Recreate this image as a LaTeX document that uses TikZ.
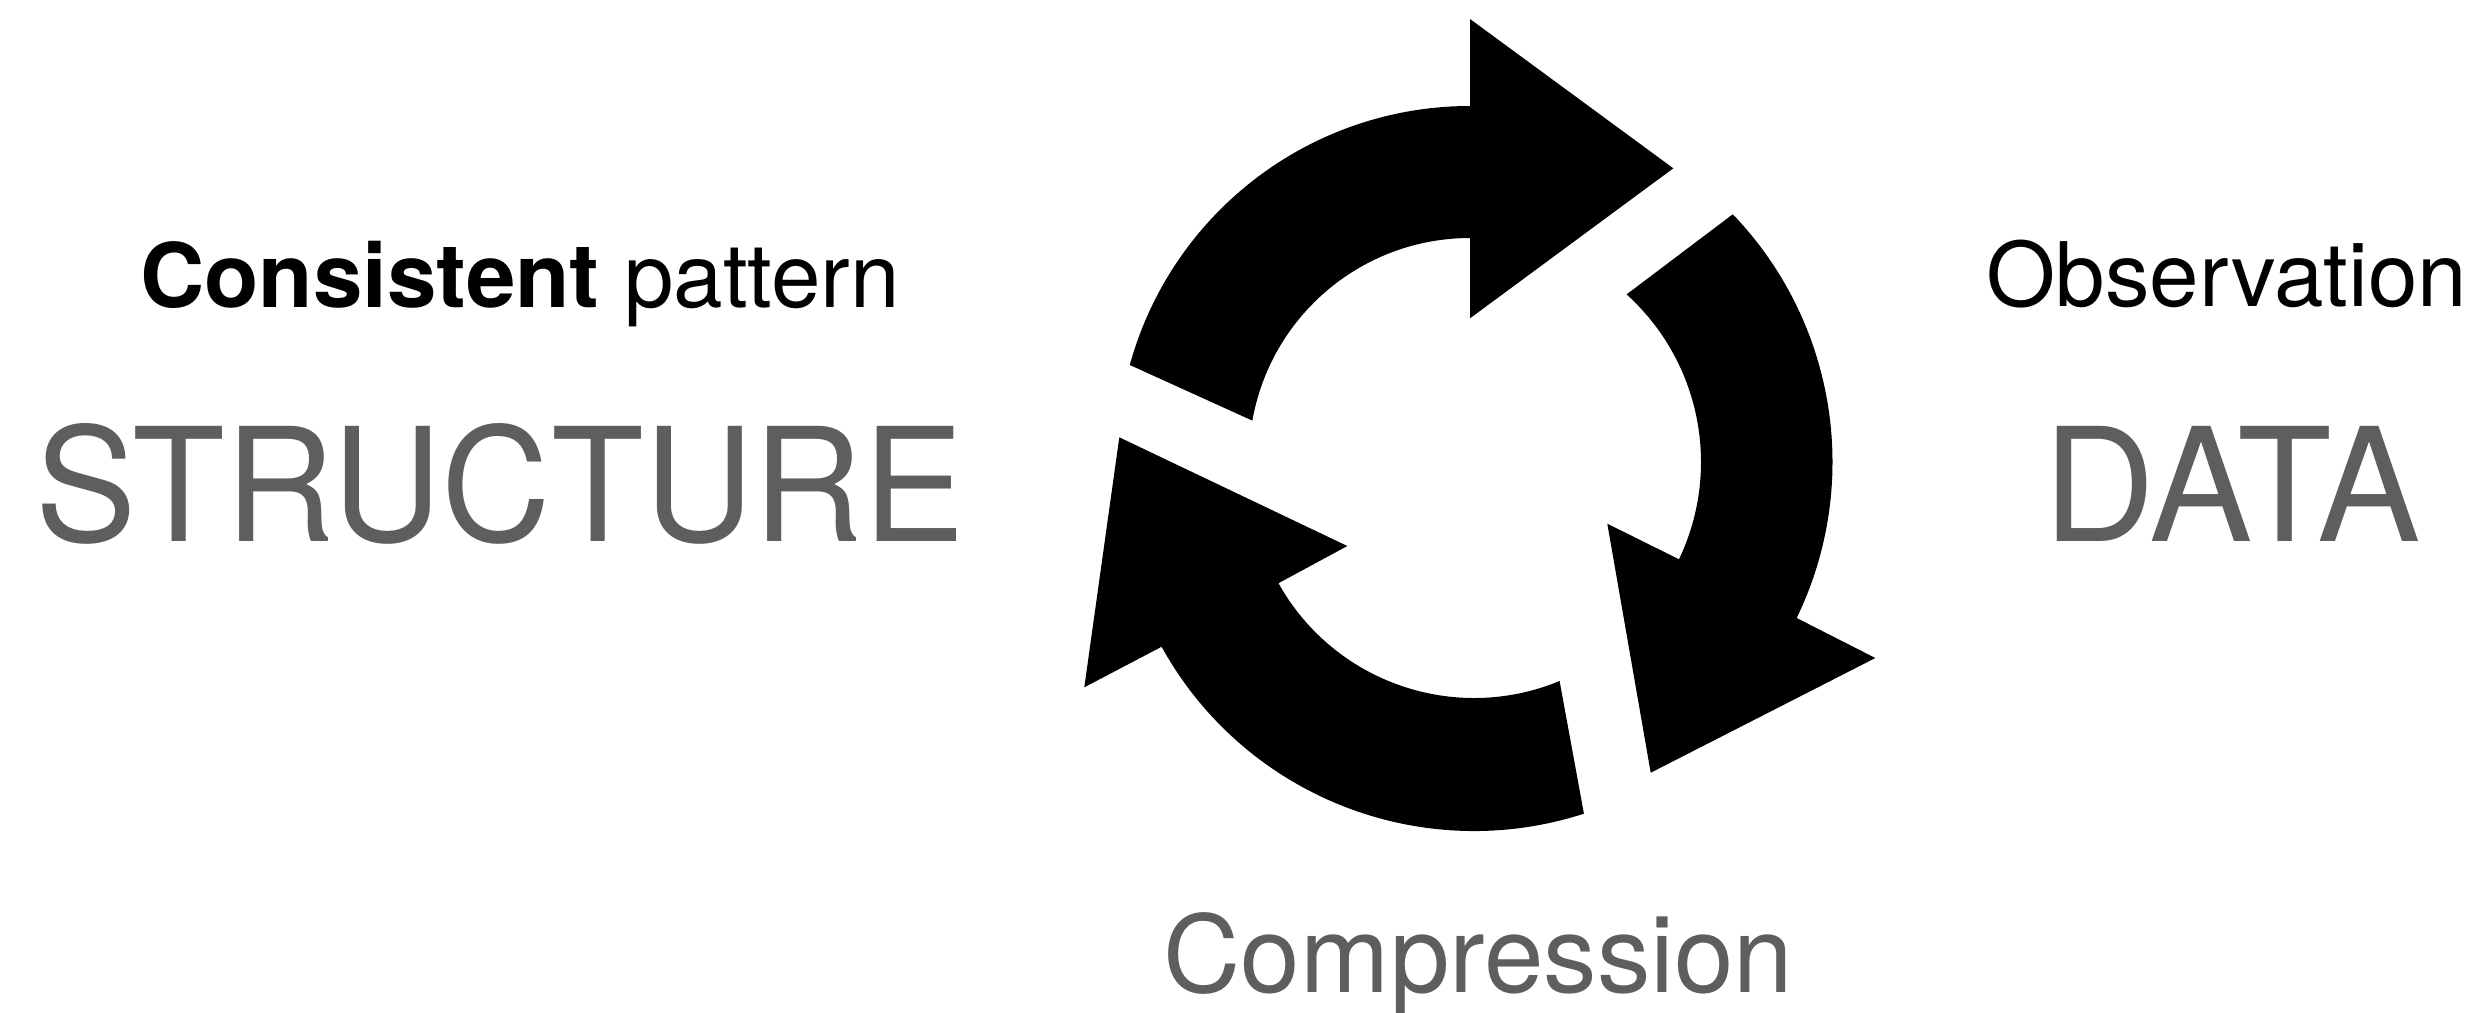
\documentclass[tikz,border=0pt]{standalone}
\usepackage{fontspec}
\setmainfont{TeX Gyre Heros}
\definecolor{textgray}{HTML}{5E5E5E}
\begin{document}
\begin{tikzpicture}[x=1pt,y=-1pt,
  lbl/.style={anchor=base,inner sep=0pt,outer sep=0pt},
  small/.style={font=\fontsize{89}{100}\selectfont,text=black},
  big/.style={font=\fontsize{158}{170}\selectfont,text=textgray},
  mid/.style={font=\fontsize{107}{120}\selectfont,text=textgray},
  arrowfill/.style={fill=black}]
\useasboundingbox (0,0) rectangle (2478,1012);
\fill[white] (0,0) rectangle (2478,1012);

% text
\node[lbl,small] (pattern) at (520,307) {\textbf{Consistent} pattern};
\node[lbl,small] (obs) at (2227,306) {Observation};
\node[lbl,big] (structure) at (500,541.7) {\scalebox{0.96}[1]{STRUCTURE}};
\node[lbl,big] (data) at (2232,541) {\scalebox{0.98}[1]{DATA}};
\node[lbl,mid] (compression) at (1478.5,992) {Compression};

% top arrow
\fill[arrowfill] ([shift={(1470,459)}]195.45:353) arc[start angle=195.45, end angle=270, radius=353]
  -- (1470,19) -- (1673.3,168.3) -- (1470,318.3)
  -- ([shift={(1470,459)}]270:221) arc[start angle=270, end angle=190, radius=221] -- cycle;

% right arrow
\fill[arrowfill] ([shift={(1475,462)}]-43.86:357.5) arc[start angle=-43.86, end angle=25.87, radius=357.5]
  -- (1875.3,658) -- (1650.7,772.7) -- (1607.3,523.7)
  -- ([shift={(1475,462)}]25.5:226) arc[start angle=25.5, end angle=-47.87, radius=226] -- cycle;

% bottom arrow
\fill[arrowfill] ([shift={(1474,474)}]72.07:357) arc[start angle=72.07, end angle=151.06, radius=357]
  -- (1084.3,687.3) -- (1119.3,437.3) -- (1347.3,546)
  -- ([shift={(1474,474)}]150.82:224) arc[start angle=150.82, end angle=67.54, radius=224] -- cycle;
\end{tikzpicture}
\end{document}
